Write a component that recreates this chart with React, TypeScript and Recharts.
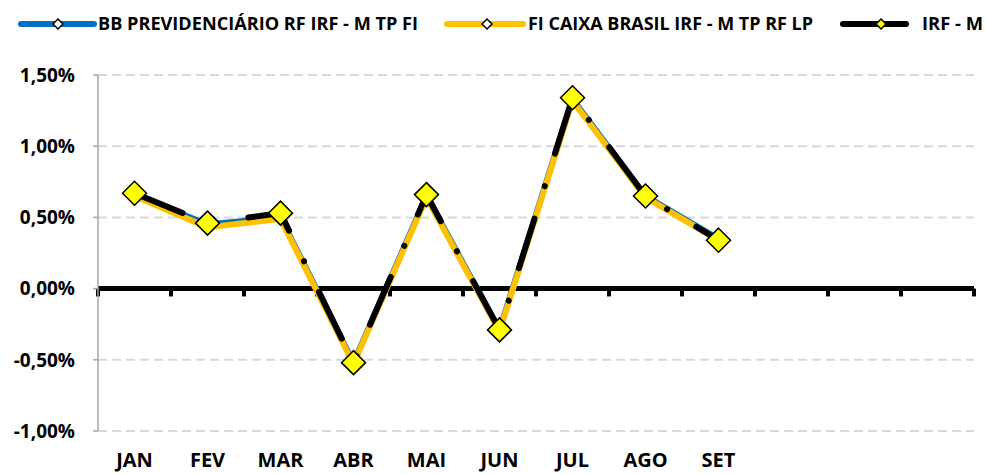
import React from 'react'
import { LineChart, Line, XAxis, YAxis, CartesianGrid, ReferenceLine } from 'recharts'

const MONTHS = ['JAN', 'FEV', 'MAR', 'ABR', 'MAI', 'JUN', 'JUL', 'AGO', 'SET', 'OUT', 'NOV', 'DEZ']
const BB_PREV = [0.66, 0.45, 0.5, -0.52, 0.65, -0.29, 1.33, 0.65, 0.35, null, null, null]
const CAIXA = [0.65, 0.43, 0.49, -0.53, 0.64, -0.3, 1.32, 0.64, 0.34, null, null, null]
const IRF_M = [0.67, 0.46, 0.53, -0.52, 0.66, -0.29, 1.34, 0.65, 0.34, null, null, null]
const Y_TICKS = [-1, -0.5, 0, 0.5, 1, 1.5]
const NAMES = ['BB PREVIDENCIÁRIO RF IRF - M TP FI', 'FI CAIXA BRASIL IRF - M TP RF LP', 'IRF - M']

const FONT = '"Open Sans", sans-serif'

const data = MONTHS.map((m, i) => ({
  x: i + 1,
  month: m,
  bb: BB_PREV[i],
  caixa: CAIXA[i],
  irfm: IRF_M[i]
}))

const bounds = MONTHS.map((_, i) => i + 0.5).concat(MONTHS.length + 0.5)

const diamond = (cx: number, cy: number, r: number) =>
  `${cx},${cy - r} ${cx + r},${cy} ${cx},${cy + r} ${cx - r},${cy}`

const bigDot = (props: any) => {
  const { cx, cy, index, value } = props
  if (value == null || cx == null || cy == null) return <g key={`d-${index}`} />
  return (
    <polygon
      key={`d-${index}`}
      points={diamond(cx, cy, 12)}
      fill="#ffff00"
      stroke="#000"
      strokeWidth={1.5}
      strokeLinejoin="miter"
    />
  )
}

const smallDot = (props: any) => {
  const { cx, cy, index, value } = props
  if (value == null || cx == null || cy == null) return <g key={`s-${index}`} />
  return <polygon key={`s-${index}`} points={diamond(cx, cy, 4)} fill="#fff" stroke="#000" strokeWidth={1.5} />
}

const MonthTick = ({ x, y, payload }: any) => {
  const i = payload.value - 1
  if (IRF_M[i] == null) return <g />
  return (
    <text x={x} y={y + 36} textAnchor="middle" fill="#000" fontSize={20} fontWeight={700} fontFamily={FONT}>
      {MONTHS[i]}
    </text>
  )
}

const fmt = (v: number) => v.toFixed(2).replace('.', ',') + '%'

const LegendBar = () => {
  const items = [
    { x1: 21, x2: 94, dx: 58, text: 98, len: 320, color: '#0070c0', fill: '#fff', r: 5 },
    { x1: 447, x2: 523, dx: 487, text: 528, len: 285, color: '#ffc000', fill: '#fff', r: 5 },
    { x1: 843, x2: 906, dx: 881, text: 922, len: 61, color: '#000', fill: '#ffff00', r: 5 }
  ]
  return (
    <svg width={986} height={50} style={{ position: 'absolute', left: 0, top: 0 }}>
      {items.map((it, i) => (
        <g key={i}>
          <line x1={it.x1} y1={24} x2={it.x2} y2={24} stroke={it.color} strokeWidth={6} strokeLinecap="round" />
          <polygon points={diamond(it.dx, 24, it.r)} fill={it.fill} stroke="#000" strokeWidth={1.5} />
          <text
            x={it.text}
            y={30}
            fontSize={17}
            fontWeight={700}
            fontFamily={FONT}
            fill="#000"
            textLength={it.len}
            lengthAdjust="spacingAndGlyphs"
          >
            {NAMES[i]}
          </text>
        </g>
      ))}
    </svg>
  )
}

export default function App() {
  return (
    <div style={{ position: 'absolute', left: 0, top: 0, width: 986, height: 474, background: '#fff' }}>
      <LineChart width={986} height={474} data={data} margin={{ top: 75, right: 12, bottom: 0, left: 0 }}>
        <CartesianGrid vertical={false} stroke="#d9d9d9" strokeDasharray="9 5" strokeWidth={2} />
        <XAxis
          dataKey="x"
          type="number"
          domain={[0.5, 12.5]}
          ticks={data.map(d => d.x)}
          interval={0}
          height={43}
          axisLine={false}
          tickLine={false}
          tickSize={0}
          tickMargin={0}
          tick={<MonthTick />}
        />
        <YAxis
          domain={[-1, 1.5]}
          ticks={Y_TICKS}
          width={98}
          axisLine={{ stroke: '#a6a6a6', strokeWidth: 1.5 }}
          tickLine={{ stroke: '#a6a6a6', strokeWidth: 1.5 }}
          tickSize={5}
          tickMargin={18}
          tickFormatter={fmt}
          tick={{ fill: '#000', fontSize: 19, fontWeight: 700, fontFamily: FONT }}
        />
        <ReferenceLine y={0} stroke="#000" strokeWidth={5} />
        {bounds.map(b => (
          <ReferenceLine
            key={b}
            segment={[
              { x: b, y: 0 },
              { x: b, y: -0.055 }
            ]}
            stroke="#000"
            strokeWidth={4}
          />
        ))}
        <Line
          dataKey="bb"
          stroke="#0070c0"
          strokeWidth={6}
          dot={smallDot}
          activeDot={false}
          isAnimationActive={false}
        />
        <Line
          dataKey="caixa"
          stroke="#ffc000"
          strokeWidth={6}
          dot={smallDot}
          activeDot={false}
          isAnimationActive={false}
        />
        <Line
          dataKey="irfm"
          stroke="#000"
          strokeWidth={6}
          strokeDasharray="52 34 0.1 34"
          strokeLinecap="round"
          dot={bigDot}
          activeDot={false}
          isAnimationActive={false}
        />
      </LineChart>
      <LegendBar />
    </div>
  )
}
